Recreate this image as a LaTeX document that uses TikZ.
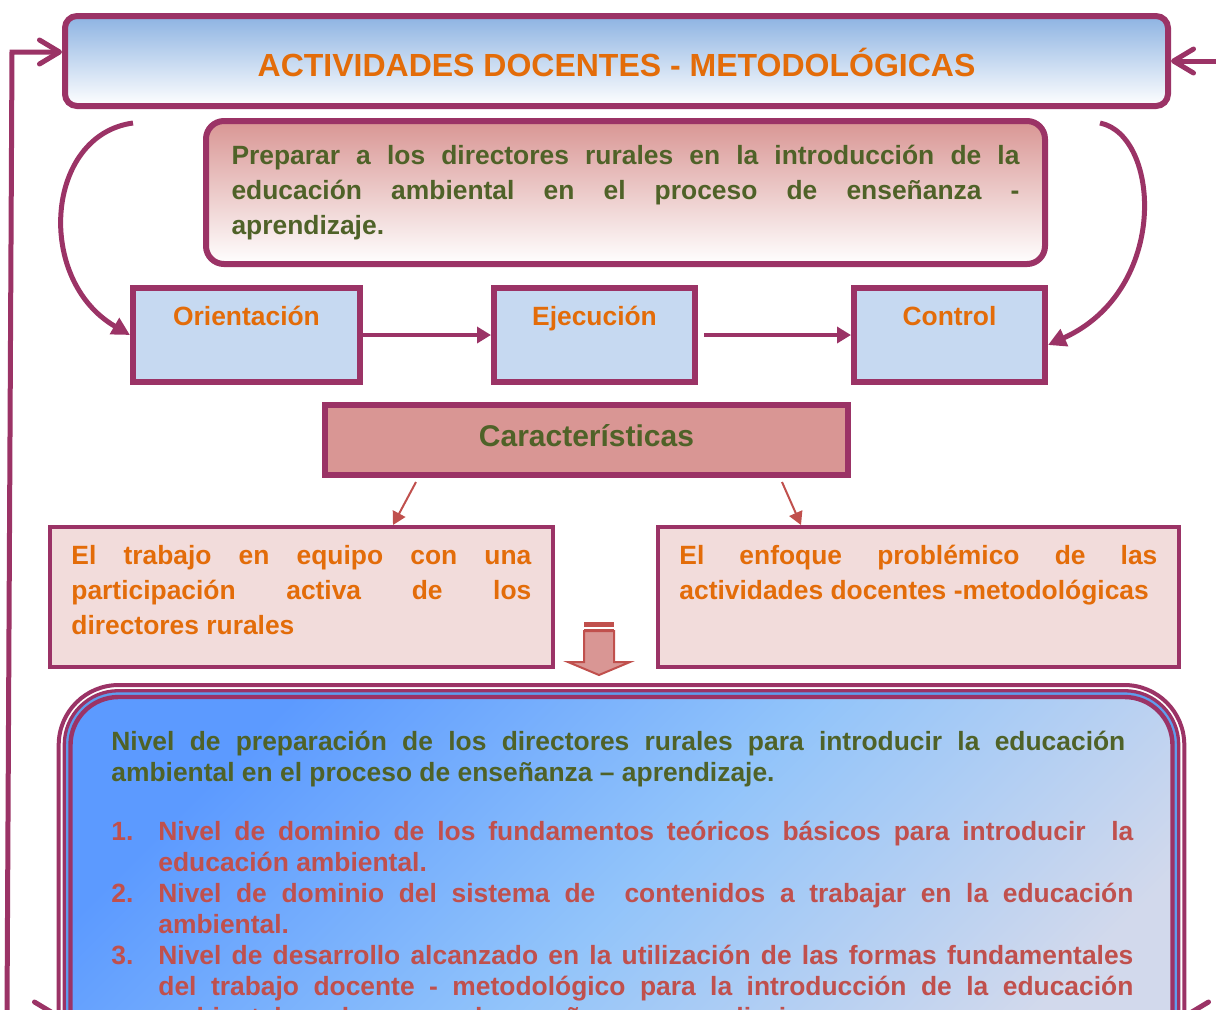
\documentclass[tikz,border=0pt]{standalone}
\usepackage{fontspec}
\setmainfont{Liberation Sans}
\usetikzlibrary{arrows.meta}
\definecolor{borde}{HTML}{9B3366}
\definecolor{naranja}{HTML}{E36C09}
\definecolor{verde}{HTML}{4F6228}
\definecolor{rojo}{HTML}{C0504D}
\definecolor{rosa}{HTML}{D99694}
\definecolor{rosaclaro}{HTML}{F2DCDB}
\definecolor{celeste}{HTML}{C6D9F1}
\definecolor{azulhead}{HTML}{8DB3E2}
\definecolor{azulfuerte}{HTML}{5C9AFF}
\definecolor{azulmedio}{HTML}{92C4FA}
\definecolor{azulfranja}{HTML}{5E9DEE}
\definecolor{lila}{HTML}{D2D9EC}
\hyphenpenalty=10000
\tolerance=10000
\def\Texto{\fontsize{13.2}{17.5}\selectfont\bfseries}
\def\TextoNivel{\fontsize{13.2}{15.5}\selectfont\bfseries}
\def\Indicador#1#2{\par\hangindent=23.5pt\hangafter=1\noindent\makebox[23.5pt][l]{#1}#2\par}
\tikzset{
	caja/.style={draw=borde, line width=3pt, inner sep=0pt},
	etapa/.style={caja, fill=celeste, minimum height=47pt, text height=18.5pt,
		text depth=28.5pt, text=naranja, font=\Texto},
	rasgo/.style={draw=borde, line width=2pt, fill=rosaclaro, minimum height=70pt},
	texto rasgo/.style={anchor=north west, inner sep=0pt, align=justify,
		text=naranja, font=\Texto},
	lazo/.style={draw=borde, line width=2.5pt, -{Straight Barb[length=10pt,width=12pt,round]}},
	curva/.style={draw=borde, line width=2.5pt, -{Triangle[length=9pt,width=9pt]}},
	paso/.style={draw=borde, line width=2pt, -{Triangle[length=7pt,width=8pt]}},
	flecha roja/.style={draw=rojo, line width=1pt, -{Triangle[length=6.5pt,width=7pt]}}
}

\begin{document}
\begin{tikzpicture}[x=0.5pt, y=-0.5pt]
	\useasboundingbox (0,0) rectangle (1216,1009);
	\clip (0,0) rectangle (1216,1009);
	% encabezado y objetivo
	\node (Header) [caja, rounded corners=6pt, top color=azulhead, bottom color=white,
		minimum width=551.5pt, minimum height=45pt, text height=30pt, text depth=15pt,
		text=naranja, font=\fontsize{16}{19}\selectfont\bfseries] at (616.5,61)
		{ACTIVIDADES DOCENTES - METODOLÓGICAS};
	\node (Objetivo) [caja, rounded corners=9pt, top color=rosa, bottom color=white,
		minimum width=419.5pt, minimum height=71.5pt, text width=394pt, align=justify,
		text=verde, font=\Texto] at (625.5,192.5)
		{Preparar a los directores rurales en la introducción de la\linebreak
		educación ambiental en el proceso de enseñanza -\linebreak aprendizaje.};
	% etapas
	\node (Orientacion) [etapa, minimum width=113.5pt] at (246.5,335) {Orientación};
	\node (Ejecucion) [etapa, minimum width=100.5pt] at (594.5,335) {Ejecución};
	\node (Control) [etapa, minimum width=95.5pt] at (949.5,335) {Control};
	\draw[paso] (Orientacion) -- (Ejecucion);
	\draw[paso, shorten <=3pt] (Ejecucion) -- (Control);
	\coordinate (InicioIzq) at (133,123);
	\coordinate (InicioDer) at (1100,123);
	\draw[curva] (InicioIzq) .. controls (45,135) and (35,280) .. (Orientacion.west);
	\draw[curva] (InicioDer) .. controls (1160,135) and (1170,290) .. ([yshift=-5pt]Control.east);
	% caracteristicas
	\node (Caracteristicas) [caja, fill=rosa, minimum width=261.5pt, minimum height=35pt,
		text height=20.5pt, text depth=14.5pt, text=verde,
		font=\fontsize{15}{18}\selectfont\bfseries] at (586.5,440) {Características};
	\node (Equipo) [rasgo, minimum width=251.5pt] at (301.5,597) {};
	\node (Enfoque) [rasgo, minimum width=260.5pt] at (918.5,597) {};
	\node (TextoEquipo) [texto rasgo, text width=230pt] at (71,545)
		{El trabajo en equipo con una\linebreak participación activa de los\linebreak directores rurales};
	\node (TextoEnfoque) [texto rasgo, text width=239pt] at (679,545)
		{El enfoque problémico de las\linebreak actividades docentes -metodológicas};
	\draw[flecha roja] ([xshift=-85.25pt,yshift=-2pt]Caracteristicas.south) -- ([xshift=45.75pt]Equipo.north);
	\draw[flecha roja] ([xshift=97.75pt,yshift=-2pt]Caracteristicas.south) -- ([xshift=-58.75pt]Enfoque.north);
	% flecha de bloque
	\fill[rojo] (584,622) rectangle (614,627);
	\fill[rojo] (584,629) rectangle (614,631);
	\filldraw[fill=rosa, draw=rojo, line width=1pt] (584,631) -- (614,631) -- (614,662)
		-- (630,662) -- (599,675) -- (568,662) -- (584,662) -- cycle;
	% nivel de preparacion
	\draw[borde, line width=2pt, rounded corners=30pt] (58.7,685) rectangle (1184.3,1100);
	\draw[borde, fill=azulfranja, line width=1.65pt, rounded corners=27pt] (64.3,690.7) rectangle (1178.7,1100);
	\draw[borde, line width=2.2pt, rounded corners=24pt, top color=azulfuerte, bottom color=lila,
		middle color=azulmedio, shading angle=45] (70.5,697) rectangle (1172.5,1100);
	\node (Nivel) [anchor=north west, inner sep=0pt, text width=507pt, align=justify,
		text=verde, font=\TextoNivel] at (111,730.5)
		{Nivel de preparación de los directores rurales para introducir la educación\linebreak
		ambiental en el proceso de enseñanza – aprendizaje.};
	\node (Indicadores) [anchor=north west, inner sep=0pt, text width=511pt, align=justify,
		text=rojo, font=\TextoNivel] at (111,809)
		{\Indicador{1.}{Nivel de dominio de los fundamentos teóricos básicos para introducir \ la\linebreak educación ambiental.}
		\Indicador{2.}{Nivel de dominio del sistema de \ contenidos a trabajar en la educación\linebreak ambiental.}
		\Indicador{3.}{Nivel de desarrollo alcanzado en la utilización de las formas fundamentales\linebreak
		del trabajo docente - metodológico para la introducción de la educación\linebreak
		ambiental en el proceso de enseñanza- aprendizaje.}};
	% lazos exteriores
	\coordinate (EsquinaIzq) at (7,1014);
	\coordinate (EsquinaDer) at (1240,1014);
	\coordinate (EntradaDer) at (1240,61);
	\coordinate (NivelIzq) at (57,1014);
	\coordinate (NivelDer) at (1186,1014);
	\draw[lazo] (EsquinaIzq) -- (12,52) -- ([yshift=4.5pt]Header.west);
	\draw[lazo] (EsquinaIzq) -- (NivelIzq);
	\draw[lazo] (EntradaDer) -- (Header.east);
	\draw[lazo] (EsquinaDer) -- (NivelDer);
\end{tikzpicture}
\end{document}
